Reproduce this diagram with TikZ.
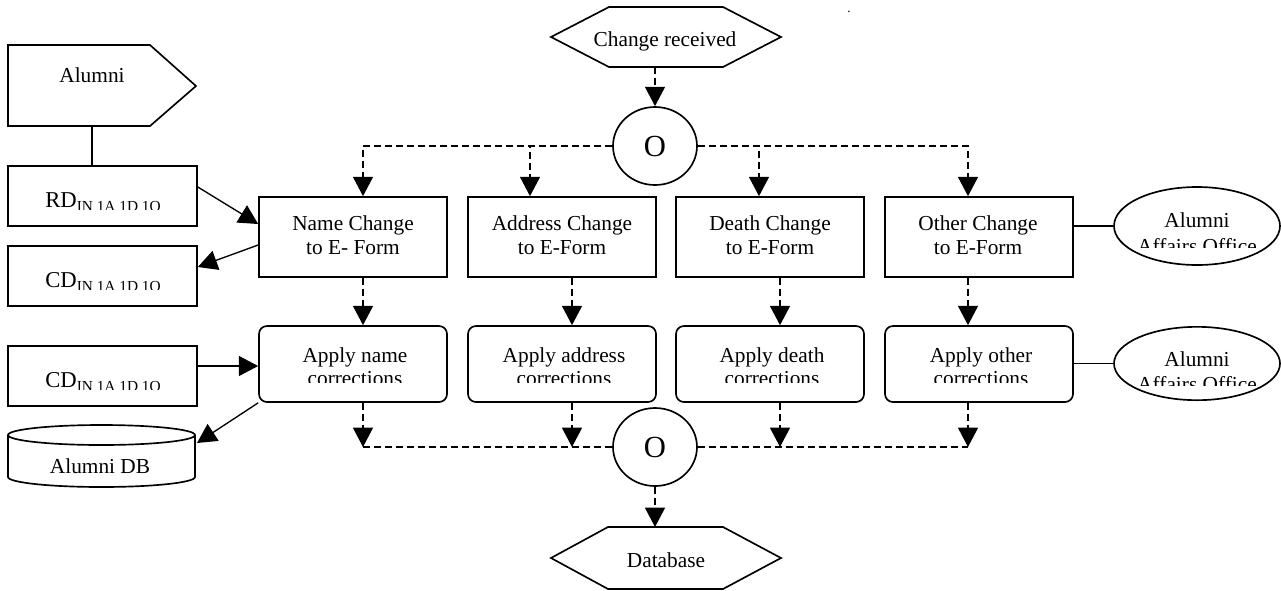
\documentclass[tikz,border=0pt]{standalone}
\usepackage{fontspec}
\setmainfont{Liberation Serif}
\usetikzlibrary{arrows.meta,shapes.geometric}
\begin{document}
\begin{tikzpicture}[x=0.75pt,y=-0.75pt,
  shp/.style={draw,line width=1.25pt},
  box/.style={shp,rectangle,minimum width=141pt,minimum height=60pt,inner sep=0pt},
  sidebox/.style={shp,rectangle,minimum width=141.75pt,minimum height=45pt,inner sep=0pt},
  rbox/.style={box,rounded corners=6pt,minimum height=57pt},
  oval/.style={shp,ellipse,inner sep=0pt},
  junction/.style={oval,minimum width=63pt,minimum height=58.5pt,font=\fontsize{23}{24}\selectfont},
  txt/.style={font=\fontsize{16}{18}\selectfont,inner sep=0pt,anchor=base},
  big/.style={font=\fontsize{17}{19}\selectfont,inner sep=0pt,anchor=base west},
  link/.style={line width=1pt},
  tip/.style={-{Triangle[length=14.5pt,width=15pt]}},
  arr/.style={link,tip},
  dline/.style={link,dash pattern=on 5.25pt off 3pt},
  flow/.style={dline,tip},
]
\newcommand{\subtxt}[1]{\raisebox{-3.5pt}{\fontsize{11.5}{12}\selectfont #1}}
\useasboundingbox (0,0) rectangle (1281,590);

% ---- start and end terminators ----
\draw[shp] (551,37) -- (609,7) -- (723,7) -- (781,37) -- (723,67) -- (609,67) -- cycle;
\node[txt] (recv) at (665,46) {Change received};
\coordinate (recvB) at (655,67);

\draw[shp] (551,558) -- (608,527) -- (723,527) -- (781,558) -- (723,589) -- (608,589) -- cycle;
\node[txt] (dbase) at (666,567) {Database};
\coordinate (dbaseT) at (655,527);

\node[inner sep=0pt,anchor=base,font=\fontsize{10}{10}\selectfont] (dot) at (849,12) {.};

% ---- junctions ----
\node[junction] (o1) at (655,146) {O};
\node[junction] (o2) at (655,447) {O};

% ---- change forms ----
\node[box] (name)  at (353,237) {};
\node[box] (addr)  at (562,237) {};
\node[box] (death) at (770,237) {};
\node[box] (other) at (979,237) {};
\node[txt] (name1)  at (353,230) {Name Change};
\node[txt] (name2)  at (353,254) {to E- Form};
\node[txt] (addr1)  at (562,230) {Address Change};
\node[txt] (addr2)  at (562,254) {to E-Form};
\node[txt] (death1) at (770,230) {Death Change};
\node[txt] (death2) at (770,254) {to E-Form};
\node[txt] (other1) at (978,230) {Other Change};
\node[txt] (other2) at (978,254) {to E-Form};

% ---- corrections ----
\node[rbox] (aname)  at (353,364) {};
\node[rbox] (aaddr)  at (562,364) {};
\node[rbox] (adeath) at (770,364) {};
\node[rbox] (aother) at (979,364) {};
\begin{scope}
  \clip (250,330) rectangle (1080,382);
  \node[txt] (an1) at (355,362) {Apply name};
  \node[txt] (an2) at (355,385) {corrections};
  \node[txt] (aa1) at (564,362) {Apply address};
  \node[txt] (aa2) at (564,385) {corrections};
  \node[txt] (ad1) at (772,362) {Apply death};
  \node[txt] (ad2) at (772,385) {corrections};
  \node[txt] (ao1) at (981,362) {Apply other};
  \node[txt] (ao2) at (981,385) {corrections};
\end{scope}

% ---- office ovals ----
\node[oval,minimum width=124.5pt,minimum height=58.5pt] (aao1) at (1197,226) {};
\node[oval,minimum width=124.5pt,minimum height=55pt] (aao2) at (1197,363.5) {};
\node[txt] (aao1a) at (1197,227) {Alumni};
\node[txt] (aao2a) at (1197,366) {Alumni};
\begin{scope}
  \clip (1110,235) rectangle (1281,247.5);
  \node[txt] (aao1b) at (1197,253) {Affairs Office};
\end{scope}
\begin{scope}
  \clip (1110,372) rectangle (1281,385.5);
  \node[txt] (aao2b) at (1197,391) {Affairs Office};
\end{scope}

% ---- alumni side ----
\draw[shp] (8,45) -- (150,45) -- (196,86) -- (150,126) -- (8,126) -- cycle;
\node[txt] (alum) at (92,82) {Alumni};
\coordinate (alumB) at (92,126);

\node[sidebox] (rd)  at (102.5,196) {};
\node[sidebox] (cd1) at (102.5,276) {};
\node[sidebox] (cd2) at (102.5,376) {};
\begin{scope}
  \clip (10,170) rectangle (195,209);
  \node[big] (rdt) at (45,207) {RD\subtxt{IN 1A 1D 1O}};
\end{scope}
\begin{scope}
  \clip (10,250) rectangle (195,289);
  \node[big] (cd1t) at (45,287) {CD\subtxt{IN 1A 1D 1O}};
\end{scope}
\begin{scope}
  \clip (10,350) rectangle (195,389);
  \node[big] (cd2t) at (45,387) {CD\subtxt{IN 1A 1D 1O}};
\end{scope}

% database cylinder
\draw[shp] (8,435) -- (8,477) arc[start angle=180,end angle=0,x radius=93.5,y radius=10] -- (195,435);
\draw[shp] (101.5,435) ellipse [x radius=93.5,y radius=10];
\node[txt] (alumdb) at (100,473) {Alumni DB};
\coordinate (alumdbR) at (197,443);

% ---- connectors ----
\draw[flow] (recvB) -- (o1.north);
\draw[flow] (o1.west) -| ([xshift=7.5pt]name.north);
\draw[flow] (o1.west) -| ([xshift=-24pt]addr.north);
\draw[flow] (o1.east) -| ([xshift=-8.25pt]death.north);
\draw[flow] (o1.east) -| ([xshift=-8.25pt]other.north);

\draw[flow] ([xshift=7.5pt]name.south)   -- ([xshift=7.5pt]aname.north);
\draw[flow] ([xshift=7.5pt]addr.south)   -- ([xshift=7.5pt]aaddr.north);
\draw[flow] ([xshift=7.5pt]death.south)  -- ([xshift=7.5pt]adeath.north);
\draw[flow] ([xshift=-8.25pt]other.south) -- ([xshift=-8.25pt]aother.north);

\coordinate (jn) at ([xshift=7.5pt]aname.south);
\coordinate (ja) at ([xshift=7.5pt]aaddr.south);
\coordinate (jd) at ([xshift=7.5pt]adeath.south);
\coordinate (jo) at ([xshift=-8.25pt]aother.south);
\draw[flow] (jn) -- (jn |- o2);
\draw[flow] (ja) -- (ja |- o2);
\draw[flow] (jd) -- (jd |- o2);
\draw[flow] (jo) -- (jo |- o2);
\draw[dline] (o2.west) -- (jn |- o2);
\draw[dline] (o2.east) -- (jo |- o2);
\draw[flow] (o2.south) -- (dbaseT);

\draw[link] (alumB) -- ([xshift=-7.875pt]rd.north);
\draw[arr] ([yshift=6.75pt]rd.east) -- ([yshift=9.75pt]name.west);
\draw[arr] ([yshift=-6pt]name.west) -- ([yshift=6.75pt]cd1.east);
\draw[arr] ([yshift=7.5pt]cd2.east) -- ([yshift=-1.5pt]aname.west);
\draw[arr] (aname.south west) -- (alumdbR);

\draw[link] (aao1.west -| other.east) -- (aao1.west);
\draw[link] (aao2.west -| aother.east) -- (aao2.west);
\end{tikzpicture}
\end{document}
